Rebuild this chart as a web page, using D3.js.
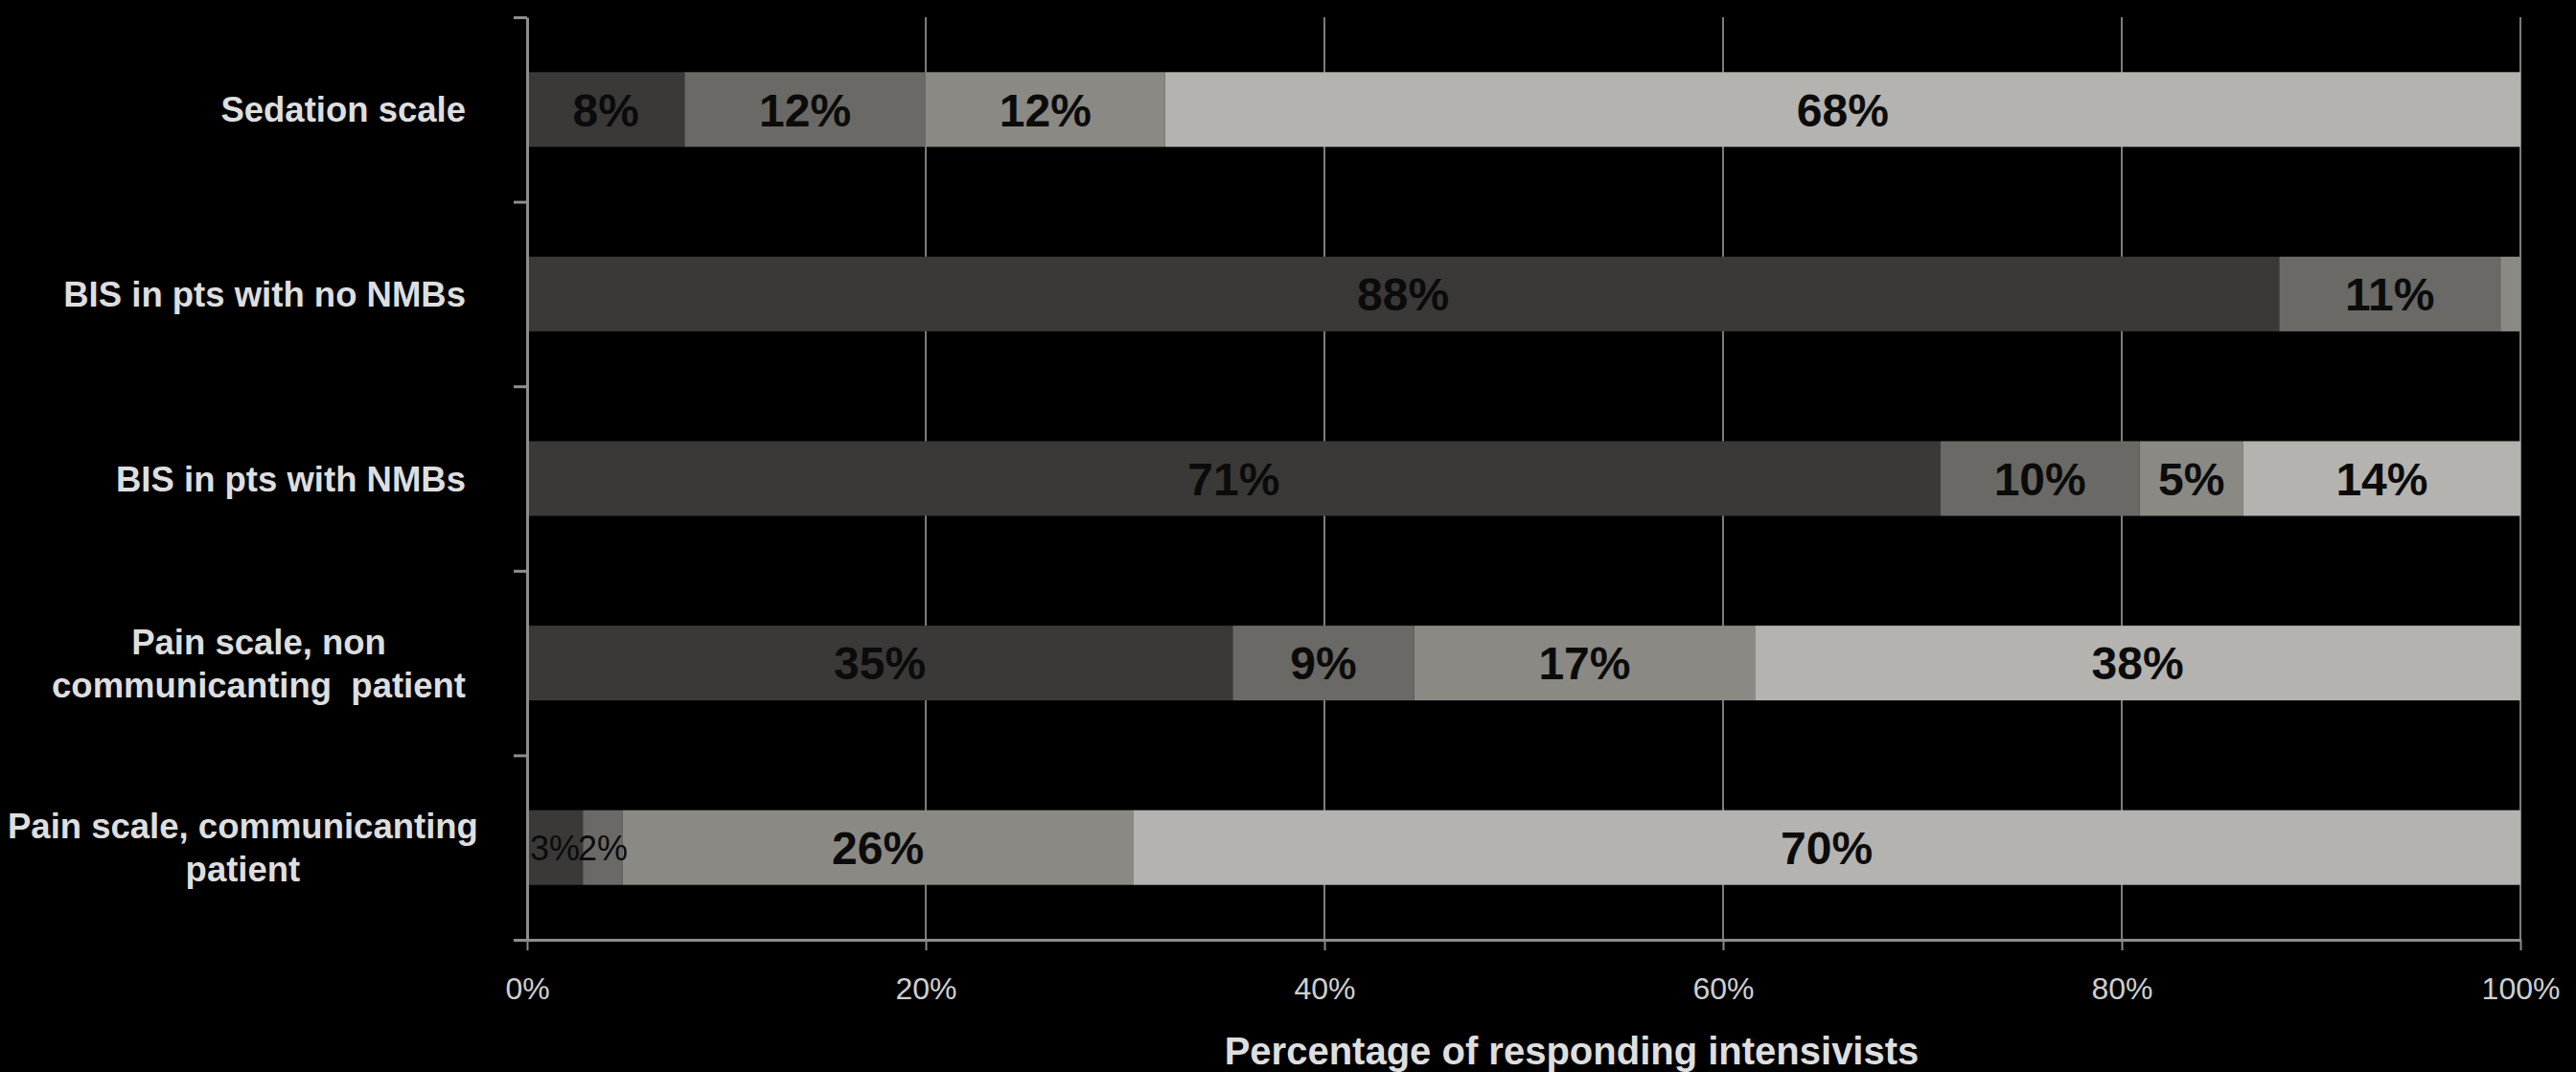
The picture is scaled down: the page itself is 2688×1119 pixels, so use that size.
<!DOCTYPE html>
<html>
<head>
<meta charset="utf-8">
<script src="https://cdn.jsdelivr.net/npm/d3@7"></script>
<style>
  html, body { margin: 0; padding: 0; background: #000; overflow: hidden; }
  svg { display: block; font-family: "Liberation Sans", Arial, Helvetica, sans-serif; }
  text { white-space: pre; }
</style>
</head>
<body>
<svg id="chart" width="2688" height="1119"></svg>
<script>
// Monitoring tools used by responding intensivists (share of respondents, %)
const categories = [
  "Sedation scale",
  "BIS in pts with no NMBs",
  "BIS in pts with NMBs",
  "Pain scale, non\ncommunicanting  patient",
  "Pain scale, communicanting\npatient"
];

// Four response levels, stacked left to right
const tier1 = [7.9, 87.9, 70.9, 35.4, 2.8];
const tier2 = [12.1, 11.1, 10.0, 9.1, 2.0];
const tier3 = [12.0, 1.0, 5.2, 17.1, 25.6];
const tier4 = [68.0, 0.0, 13.9, 38.4, 69.6];

const xTickValues = [0, 20, 40, 60, 80, 100];
const xTitle = "Percentage of responding intensivists";

const seriesKeys = ["tier1", "tier2", "tier3", "tier4"];
const seriesColors = ["#3a3937", "#6a6965", "#8a8984", "#b4b3b0"];

// ---- layout ----
const plotLeft = 550, plotRight = 2630, plotTop = 18, plotBottom = 981;
const font = '"Liberation Sans", Arial, Helvetica, sans-serif';

const svg = d3.select("#chart");

const x = d3.scaleLinear().domain([0, 100]).range([plotLeft, plotRight]);
const yEdge = d3.scaleLinear().domain([0, categories.length]).range([plotTop, plotBottom]);
const y = d3.scaleBand()
  .domain(categories)
  .range([plotTop, plotBottom])
  .paddingInner(0.595)
  .paddingOuter(0.2975);

const color = d3.scaleOrdinal().domain(seriesKeys).range(seriesColors);

// rows for the stack layout
const rows = categories.map((c, i) => ({
  category: c,
  tier1: tier1[i], tier2: tier2[i], tier3: tier3[i], tier4: tier4[i]
}));
const stacked = d3.stack().keys(seriesKeys)(rows);

// vertical gridlines
svg.append("g")
  .selectAll("line")
  .data(xTickValues.slice(1))
  .join("line")
  .attr("x1", d => x(d)).attr("x2", d => x(d))
  .attr("y1", plotTop).attr("y2", plotBottom)
  .attr("stroke", "#7c7c7c")
  .attr("stroke-width", 2);

// stacked bars
const layers = svg.append("g")
  .selectAll("g")
  .data(stacked)
  .join("g")
  .attr("fill", d => color(d.key));

layers.selectAll("rect")
  .data(d => d.filter(s => s[1] - s[0] > 0))
  .join("rect")
  .attr("x", d => x(d[0]))
  .attr("width", d => x(d[1]) - x(d[0]))
  .attr("y", d => y(d.data.category))
  .attr("height", y.bandwidth());

// value labels inside segments
const fmt = d3.format(".0f");
const labelData = [];
stacked.forEach(layer => {
  layer.forEach(s => {
    const v = s[1] - s[0];
    if (v >= 1.5) labelData.push({ v, s });
  });
});

svg.append("g")
  .selectAll("text")
  .data(labelData)
  .join("text")
  .attr("x", d => (x(d.s[0]) + x(d.s[1])) / 2)
  .attr("y", d => y(d.s.data.category) + y.bandwidth() / 2)
  .attr("dy", "0.36em")
  .attr("text-anchor", "middle")
  .attr("fill", "#0b0b0b")
  .style("font-family", font)
  .style("font-weight", d => d.v < 4 ? "normal" : "bold")
  .style("font-size", d => d.v < 4 ? "36px" : "48px")
  .text(d => fmt(d.v) + "%");

// left axis with ticks at category boundaries
const leftAxis = svg.append("g")
  .attr("transform", `translate(${plotLeft},0)`)
  .call(d3.axisLeft(yEdge)
    .tickValues(d3.range(0, categories.length + 1))
    .tickFormat("")
    .tickSize(14)
    .tickSizeOuter(0));
leftAxis.select(".domain").attr("stroke", "#8e8e8e").attr("stroke-width", 3);
leftAxis.selectAll(".tick line").attr("stroke", "#8e8e8e").attr("stroke-width", 3);

// bottom axis
const bottomAxis = svg.append("g")
  .attr("transform", `translate(0,${plotBottom})`)
  .call(d3.axisBottom(x)
    .tickValues(xTickValues)
    .tickFormat(d => d + "%")
    .tickSize(11)
    .tickSizeOuter(0)
    .tickPadding(28));
bottomAxis.select(".domain").attr("stroke", "#8e8e8e").attr("stroke-width", 3);
bottomAxis.selectAll(".tick line").attr("stroke", "#8a8a8a").attr("stroke-width", 2);
bottomAxis.selectAll(".tick text")
  .attr("fill", "#cfcfcf")
  .style("font-family", font)
  .style("font-size", "32px");

// category labels: centred lines, block right-aligned against the axis
const labelRight = 486;
const catG = svg.append("g");
categories.forEach(c => {
  const lines = c.split("\n");
  const lineH = 45;
  const cy = y(c) + y.bandwidth() / 2;
  const t = catG.append("text")
    .attr("text-anchor", "middle")
    .attr("fill", "#dedede")
    .style("font-family", font)
    .style("font-weight", "bold")
    .style("font-size", "36.5px");
  const spans = lines.map((ln, i) =>
    t.append("tspan")
      .attr("y", cy + (i - (lines.length - 1) / 2) * lineH)
      .attr("dy", "0.36em")
      .text(ln));
  const maxW = d3.max(spans, s => s.node().getComputedTextLength());
  const cx = Math.max(labelRight - maxW / 2, 8 + maxW / 2);
  spans.forEach(s => s.attr("x", cx));
});

// axis title
svg.append("text")
  .attr("x", 1640)
  .attr("y", 1111)
  .attr("text-anchor", "middle")
  .attr("fill", "#dedede")
  .style("font-family", font)
  .style("font-weight", "bold")
  .style("font-size", "40px")
  .text(xTitle);
</script>
</body>
</html>
